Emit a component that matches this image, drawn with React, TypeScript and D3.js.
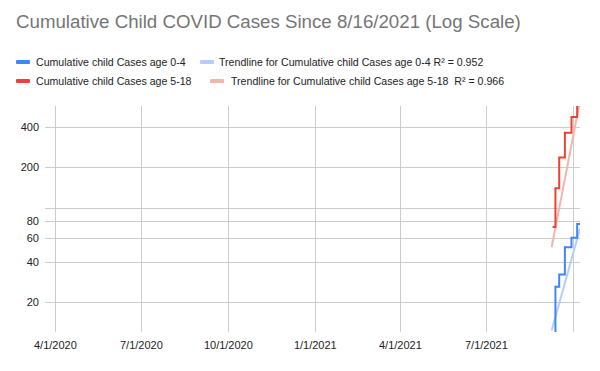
import { scaleLog, scaleTime, line, curveStepAfter } from "d3";

const W = 600;
const H = 371;
const left = 45;
const right = 580;
const top = 106;
const bottom = 332;

const dates = ["2021-09-09", "2021-09-12", "2021-09-16", "2021-09-22", "2021-09-29", "2021-10-05", "2021-10-08"];
const age04 = [8, 26, 32, 51, 60, 76, 76];
const age518 = [72, 140, 236, 361, 472, 600, 600];

// trendline endpoints (exponential fit, straight on log axis)
const trendDates = ["2021-09-08", "2021-10-08"];
const trend04 = [12.3, 70];
const trend518 = [51, 620];

const xTicks = ["2020-04-01", "2020-07-01", "2020-10-01", "2021-01-01", "2021-04-01", "2021-07-01", "2021-10-01"];
const xLabels = ["4/1/2020", "7/1/2020", "10/1/2020", "1/1/2021", "4/1/2021", "7/1/2021", ""];
const yTicks = [20, 40, 60, 80, 100, 200, 400];
const yLabels = ["20", "40", "60", "80", "", "200", "400"];

const series = [
  { name: "Cumulative child Cases age 0-4", color: "#4285f4", values: age04 },
  { name: "Cumulative child Cases age 5-18", color: "#ea4335", values: age518 },
];
const trends = [
  { name: "Trendline for Cumulative child Cases age 0-4 R² = 0.952", color: "#b3cefb", values: trend04 },
  { name: "Trendline for Cumulative child Cases age 5-18  R² = 0.966", color: "#f7b4ae", values: trend518 },
];

const parse = (s: string) => new Date(s + "T00:00:00");

export default function App() {
  const x = scaleTime()
    .domain([parse("2020-03-21"), parse("2021-10-08")])
    .range([left, right]);
  const y = scaleLog().domain([12, 570]).range([bottom, top]);

  const stepLine = line<number>()
    .x((_, i) => x(parse(dates[i])))
    .y((d) => y(d))
    .curve(curveStepAfter);
  const trendLine = line<number>()
    .x((_, i) => x(parse(trendDates[i])))
    .y((d) => y(d));

  const font = "'Liberation Sans', Arial, sans-serif";

  return (
    <svg width={W} height={H} style={{ position: "absolute", left: 0, top: 0, background: "#fff" }} fontFamily={font}>
      <rect width={W} height={H} fill="#fff" />
      <text x={16} y={28} fontSize={18.7} fill="#757575">
        Cumulative Child COVID Cases Since 8/16/2021 (Log Scale)
      </text>

      {/* legend */}
      <g fontSize={10.6} fill="#222">
        <rect x={16} y={60} width={14} height={4} rx={1} fill={series[0].color} />
        <text x={36} y={66}>{series[0].name}</text>
        <rect x={200} y={60} width={14} height={4} rx={1} fill={trends[0].color} />
        <text x={219} y={66}>{trends[0].name}</text>
        <rect x={16} y={79} width={14} height={4} rx={1} fill={series[1].color} />
        <text x={36} y={85}>{series[1].name}</text>
        <rect x={210} y={79} width={14} height={4} rx={1} fill={trends[1].color} />
        <text x={231} y={85} style={{ whiteSpace: "pre" }}>{trends[1].name}</text>
      </g>

      {/* grid */}
      <g stroke="#cccccc" strokeWidth={1}>
        {yTicks.map((t) => (
          <line key={t} x1={left} x2={right} y1={Math.round(y(t)) + 0.5} y2={Math.round(y(t)) + 0.5} />
        ))}
        {xTicks.map((t) => (
          <line key={t} x1={Math.round(x(parse(t))) + 0.5} x2={Math.round(x(parse(t))) + 0.5} y1={top} y2={bottom} />
        ))}
      </g>

      <g fontSize={11} fill="#222">
        {yTicks.map((t, i) => (
          <text key={t} x={39} y={y(t) + 4} textAnchor="end">{yLabels[i]}</text>
        ))}
        {xTicks.map((t, i) => (
          <text key={t} x={x(parse(t))} y={349} textAnchor="middle">{xLabels[i]}</text>
        ))}
      </g>

      <defs>
        <clipPath id="plot">
          <rect x={left} y={top} width={right - left} height={bottom - top} />
        </clipPath>
      </defs>
      <g clipPath="url(#plot)" fill="none">
        {trends.map((t) => (
          <path key={t.name} d={trendLine(t.values) ?? ""} stroke={t.color} strokeWidth={2} />
        ))}
        {series.map((s) => (
          <path key={s.name} d={stepLine(s.values) ?? ""} stroke={s.color} strokeWidth={2} />
        ))}
      </g>
    </svg>
  );
}
